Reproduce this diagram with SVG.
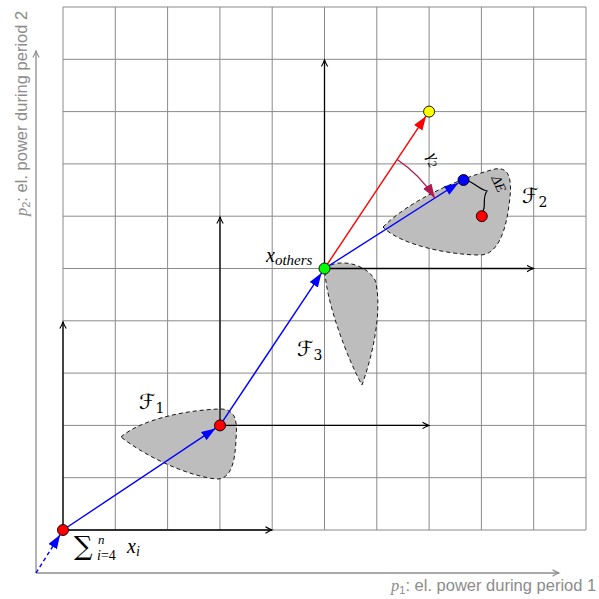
<svg xmlns="http://www.w3.org/2000/svg" width="599" height="599" viewBox="0 0 599 599">
<style>
.grid line{stroke:#8a8a8a;stroke-width:1}
.ax{stroke:#8c8c8c;stroke-width:1.3;fill:none}
.lax{stroke:#000;stroke-width:1.3;fill:none;marker-end:url(#bk)}
.blob{fill:#bdbdbd;stroke:#000;stroke-width:0.9;stroke-dasharray:4,3}
.dot{stroke:#000;stroke-width:0.9}
.m{font-family:"Liberation Serif","DejaVu Serif",serif;font-style:italic;fill:#000}
.cal{font-family:"DejaVu Serif","DejaVu Sans",serif;fill:#000}
.lbl{font-family:"Liberation Sans",Arial,sans-serif;fill:#8c8c8c;font-size:16.5px}
</style>
<defs>
<marker id="bk" markerUnits="userSpaceOnUse" markerWidth="10" markerHeight="10" refX="7" refY="4" orient="auto">
<path d="M0.5,0.8 Q4,3 7,4 Q4,5 0.5,7.2" fill="none" stroke="#000" stroke-width="1.1"/>
</marker>
<marker id="ga" markerUnits="userSpaceOnUse" markerWidth="10" markerHeight="10" refX="7" refY="4" orient="auto">
<path d="M0.5,0.8 Q4,3 7,4 Q4,5 0.5,7.2" fill="none" stroke="#8c8c8c" stroke-width="1.1"/>
</marker>
<marker id="bl" markerUnits="userSpaceOnUse" markerWidth="16" markerHeight="12" refX="14" refY="5" orient="auto">
<path d="M0,0 L14,5 L0,10 Z" fill="#0000ff"/>
</marker>
<marker id="rd" markerUnits="userSpaceOnUse" markerWidth="16" markerHeight="12" refX="14" refY="5" orient="auto">
<path d="M0,0 L14,5 L0,10 Z" fill="#ff0000"/>
</marker>
<marker id="cr" markerUnits="userSpaceOnUse" markerWidth="16" markerHeight="12" refX="14" refY="5" orient="auto">
<path d="M0,0 L14,5 L0,10 Z" fill="#b3174f"/>
</marker>
</defs>
<rect width="599" height="599" fill="#fff"/>
<g class="grid" id="grid">
<line x1="63" y1="7" x2="63" y2="530"/><line x1="115.3" y1="7" x2="115.3" y2="530"/><line x1="167.6" y1="7" x2="167.6" y2="530"/><line x1="219.9" y1="7" x2="219.9" y2="530"/><line x1="272.2" y1="7" x2="272.2" y2="530"/><line x1="324.5" y1="7" x2="324.5" y2="530"/><line x1="376.8" y1="7" x2="376.8" y2="530"/><line x1="429.1" y1="7" x2="429.1" y2="530"/><line x1="481.4" y1="7" x2="481.4" y2="530"/><line x1="533.7" y1="7" x2="533.7" y2="530"/><line x1="586" y1="7" x2="586" y2="530"/>
<line x1="63" y1="7" x2="586" y2="7"/><line x1="63" y1="59.3" x2="586" y2="59.3"/><line x1="63" y1="111.6" x2="586" y2="111.6"/><line x1="63" y1="163.9" x2="586" y2="163.9"/><line x1="63" y1="216.2" x2="586" y2="216.2"/><line x1="63" y1="268.5" x2="586" y2="268.5"/><line x1="63" y1="320.8" x2="586" y2="320.8"/><line x1="63" y1="373.1" x2="586" y2="373.1"/><line x1="63" y1="425.4" x2="586" y2="425.4"/><line x1="63" y1="477.7" x2="586" y2="477.7"/><line x1="63" y1="530" x2="586" y2="530"/>
</g>
<g id="main-axes">
<line class="ax" x1="36" y1="573" x2="559" y2="573" marker-end="url(#ga)"/>
<line class="ax" x1="36" y1="573" x2="36" y2="51" marker-end="url(#ga)"/>
<text class="lbl" x="391" y="591"><tspan class="m" style="fill:#8c8c8c">p</tspan><tspan font-size="11" dy="3" style="fill:#8c8c8c">1</tspan><tspan dy="-3">: el. power during period 1</tspan></text>
<text class="lbl" transform="translate(27,216) rotate(-90)"><tspan class="m" style="fill:#8c8c8c">p</tspan><tspan font-size="11" dy="3" style="fill:#8c8c8c">2</tspan><tspan dy="-3">: el. power during period 2</tspan></text>
</g>
<g id="F1"><path class="blob" d="M121,437 C140,420 185,410 220,409 C238,409 237,425 236,440 C235,460 232,478 218,479 C195,478 150,460 121,437 Z"/>
<text class="cal" x="139" y="409" font-size="21">ℱ<tspan font-size="14" dy="4">1</tspan></text></g>
<g id="F2"><path class="blob" d="M383,227 C410,200 460,178 495,169 C512,166 512,185 509,205 C506,230 498,255 480,255 C450,255 400,245 383,227 Z"/>
<text class="cal" x="522" y="203" font-size="21">ℱ<tspan font-size="14" dy="4">2</tspan></text></g>
<g id="F3"><path class="blob" d="M325,269 C335,258 365,262 375,280 C381,300 378,340 362,385 C348,360 325,300 325,269 Z"/>
<text class="cal" x="297" y="356" font-size="21">ℱ<tspan font-size="14" dy="4">3</tspan></text></g>
<g id="local-axes">
<line class="lax" x1="63" y1="530" x2="63" y2="322"/>
<line class="lax" x1="63" y1="530" x2="272" y2="530"/>
<line class="lax" x1="220" y1="425.4" x2="220" y2="217"/>
<line class="lax" x1="220" y1="425.4" x2="429" y2="425.4"/>
<line class="lax" x1="324.5" y1="268.5" x2="324.5" y2="60"/>
<line class="lax" x1="324.5" y1="268.5" x2="533.5" y2="268.5"/>
</g>
<g id="connectors">
<line x1="36" y1="573" x2="60.1" y2="534.7" stroke="#0000ff" stroke-width="1.4" stroke-dasharray="4,3" marker-end="url(#bl)"/>
<line x1="63" y1="530" x2="215.4" y2="428.4" stroke="#0000ff" stroke-width="1.4" marker-end="url(#bl)"/>
<line x1="220" y1="425.4" x2="321.5" y2="273.1" stroke="#0000ff" stroke-width="1.4" marker-end="url(#bl)"/>
<line x1="324.5" y1="268.5" x2="458.4" y2="183" stroke="#0000ff" stroke-width="1.4" marker-end="url(#bl)"/>
<line x1="324.5" y1="268.5" x2="426" y2="116.2" stroke="#ff0000" stroke-width="1.4" marker-end="url(#rd)"/>
<path d="M397.2,159.5 A131,131 0 0 1 434.8,198" fill="none" stroke="#b3174f" stroke-width="1.4" marker-end="url(#cr)"/>
<path d="M464,180 C472,180 478,189 487,191 C483,196 485,203 484,208 C483,212 482,214 482,216" fill="none" stroke="#000" stroke-width="1.2"/>
</g>
<text class="m" font-size="17" transform="translate(427,156) rotate(62)">γ<tspan font-size="12" dy="3">2</tspan></text>
<text class="m" font-size="14" transform="translate(491,178) rotate(65)">ΔE</text>
<g id="dots">
<circle class="dot" cx="63" cy="530" r="5.5" fill="#ff0000"/>
<circle class="dot" cx="220" cy="425.4" r="5.5" fill="#ff0000"/>
<circle class="dot" cx="324.5" cy="268.5" r="5.5" fill="#00ff00"/>
<circle class="dot" cx="429.1" cy="111.6" r="5.5" fill="#ffff00"/>
<circle class="dot" cx="463.5" cy="180" r="5.5" fill="#0000ff"/>
<circle class="dot" cx="481.8" cy="216.2" r="5.5" fill="#ff0000"/>
</g>
<text class="m" x="266" y="262" font-size="20">x<tspan font-size="15" dy="3">others</tspan></text>
<g id="sum-label">
<text x="74" y="555" font-size="26" font-family="DejaVu Serif, serif" fill="#000">∑</text>
<text class="m" x="98" y="544" font-size="13">n</text>
<text class="m" x="97" y="560" font-size="14">i<tspan style="font-style:normal">=4</tspan></text>
<text class="m" x="127" y="553" font-size="20">x<tspan font-size="14" dy="3">i</tspan></text>
</g>
</svg>
